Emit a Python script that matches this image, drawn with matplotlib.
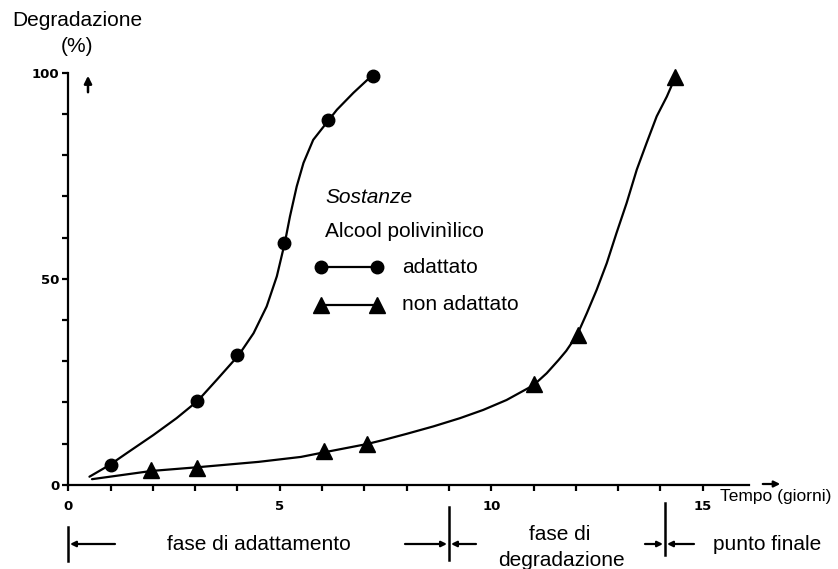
import matplotlib
matplotlib.use('Agg')
from matplotlib import pyplot as plt
from matplotlib.lines import Line2D
from matplotlib.patches import FancyArrowPatch

# Measured points (days, % degradation)
adattato_x = [1.0, 3.05, 4.0, 5.1, 6.15, 7.2]
adattato_y = [4.8, 20.4, 31.5, 58.8, 88.4, 99.3]
non_adattato_x = [1.95, 3.05, 6.05, 7.05, 11.0, 12.05, 14.35]
non_adattato_y = [3.6, 4.2, 8.2, 10.0, 24.4, 36.4, 98.9]

# Hand-drawn curves
curve_a_x = [0.5, 0.97, 1.38, 2.01, 2.56, 3.06, 3.51, 4.03, 4.38, 4.69, 4.93, 5.12,
             5.24, 5.40, 5.56, 5.79, 6.15, 6.35, 6.74, 7.18]
curve_a_y = [2.0, 4.8, 7.7, 12.1, 16.2, 20.4, 25.5, 31.5, 36.8, 43.3, 50.6, 58.8,
             65.1, 72.4, 78.1, 83.7, 88.4, 91.0, 95.1, 99.3]
curve_n_x = [0.56, 1.97, 3.06, 4.5, 5.5, 6.04, 7.05, 7.45, 8.0, 8.63, 9.26, 9.81, 10.36,
             11.0, 11.31, 11.59, 11.77, 12.03, 12.26, 12.49, 12.73, 12.96, 13.20, 13.44,
             13.67, 13.91, 14.15, 14.35]
curve_n_y = [1.4, 3.4, 4.3, 5.6, 6.8, 7.9, 9.9, 10.9, 12.4, 14.2, 16.2, 18.2, 20.6,
             24.2, 27.1, 30.3, 32.5, 36.4, 41.7, 47.3, 53.8, 61.1, 68.4, 76.5,
             82.9, 89.4, 94.2, 98.9]

x_ticks = [0, 5, 10, 15]
y_ticks = [0, 50, 100]

W, H = 838, 569
FONT = 'Liberation Sans'


def fp(x, y):
    # image pixel -> figure fraction
    return (x / W, 1 - y / H)


fig = plt.figure(figsize=(W / 100, H / 100), dpi=100)
ax = fig.add_axes([55.6 / W, (H - 493.2) / H, 774.1 / W, 445.3 / H])
ax.set_xlim(-0.3, 18)
ax.set_ylim(-2, 106)

ax.plot(curve_a_x, curve_a_y, color='black', lw=1.6, solid_capstyle='round', solid_joinstyle='round')
ax.plot(curve_n_x, curve_n_y, color='black', lw=1.6, solid_capstyle='round', solid_joinstyle='round')
ax.plot(adattato_x, adattato_y, 'o', color='black', ms=9, clip_on=False)
ax.plot(non_adattato_x, non_adattato_y, '^', color='black', ms=11, clip_on=False)

# axes styling
for s in ['top', 'right']:
    ax.spines[s].set_visible(False)
ax.spines['left'].set_position(('data', 0))
ax.spines['bottom'].set_position(('data', 0))
ax.spines['left'].set_bounds(0, 100)
ax.spines['bottom'].set_bounds(0, 16.1)
ax.spines['left'].set_linewidth(1.6)
ax.spines['bottom'].set_linewidth(1.6)
ax.set_xticks(x_ticks)
ax.set_xticks(range(0, 16), minor=True)
ax.set_yticks(y_ticks)
ax.set_yticks(range(0, 101, 10), minor=True)
ax.tick_params(which='both', direction='out', length=4, width=1.6, color='black')
ax.tick_params(axis='x', pad=7)
ax.tick_params(axis='y', pad=2.5)
for lab in ax.get_xticklabels() + ax.get_yticklabels():
    lab.set_fontfamily('DejaVu Sans')
    lab.set_fontweight('bold')
    lab.set_fontsize(9.5)

# axis titles
fig.text(*fp(77, 21), 'Degradazione', family=FONT, fontsize=15, ha='center', va='center')
fig.text(*fp(77, 46), '(%)', family=FONT, fontsize=15, ha='center', va='center')
fig.text(*fp(720, 497), 'Tempo (giorni)', family=FONT, fontsize=12.5, ha='left', va='center')

# axis arrows
fig.add_artist(FancyArrowPatch(fp(88, 95), fp(88, 73), arrowstyle='-|>', mutation_scale=11,
                               lw=1.8, color='black', transform=fig.transFigure))
fig.add_artist(FancyArrowPatch(fp(760, 484), fp(783, 484), arrowstyle='-|>', mutation_scale=9,
                               lw=1.6, color='black', transform=fig.transFigure))

# legend
fig.text(*fp(325, 198), 'Sostanze', family=FONT, fontsize=15, style='italic', ha='left', va='center')
fig.text(*fp(325, 232), 'Alcool polivinìlico', family=FONT, fontsize=15, ha='left', va='center')
for marker, ms, y, label in [('o', 9, 267, 'adattato'), ('^', 11, 305, 'non adattato')]:
    a, b = fp(321, y), fp(377, y)
    fig.add_artist(Line2D([a[0], b[0]], [a[1], b[1]], color='black', lw=1.6,
                          marker=marker, ms=ms))
    fig.text(*fp(402, y), label, family=FONT, fontsize=15, ha='left', va='center')

# phase annotations under the axis
for x, y1, y2 in [(68, 527, 561), (449, 507, 560), (665, 503, 555)]:
    a, b = fp(x, y1), fp(x, y2)
    fig.add_artist(Line2D([a[0], b[0]], [a[1], b[1]], color='black', lw=1.8))

for x1, x2 in [(115, 70), (405, 447), (476, 451), (645, 663), (694, 667)]:
    fig.add_artist(FancyArrowPatch(fp(x1, 544), fp(x2, 544), arrowstyle='-|>', mutation_scale=8,
                                   lw=1.6, color='black', transform=fig.transFigure,
                                   shrinkA=0, shrinkB=0))

fig.text(*fp(259, 544), 'fase di adattamento', family=FONT, fontsize=15, ha='center', va='center')
fig.text(*fp(560, 535), 'fase di', family=FONT, fontsize=15, ha='center', va='center')
fig.text(*fp(561, 560), 'degradazione', family=FONT, fontsize=15, ha='center', va='center')
fig.text(*fp(713, 544), 'punto finale', family=FONT, fontsize=15, ha='left', va='center')

fig.savefig('out.png', dpi=100)
